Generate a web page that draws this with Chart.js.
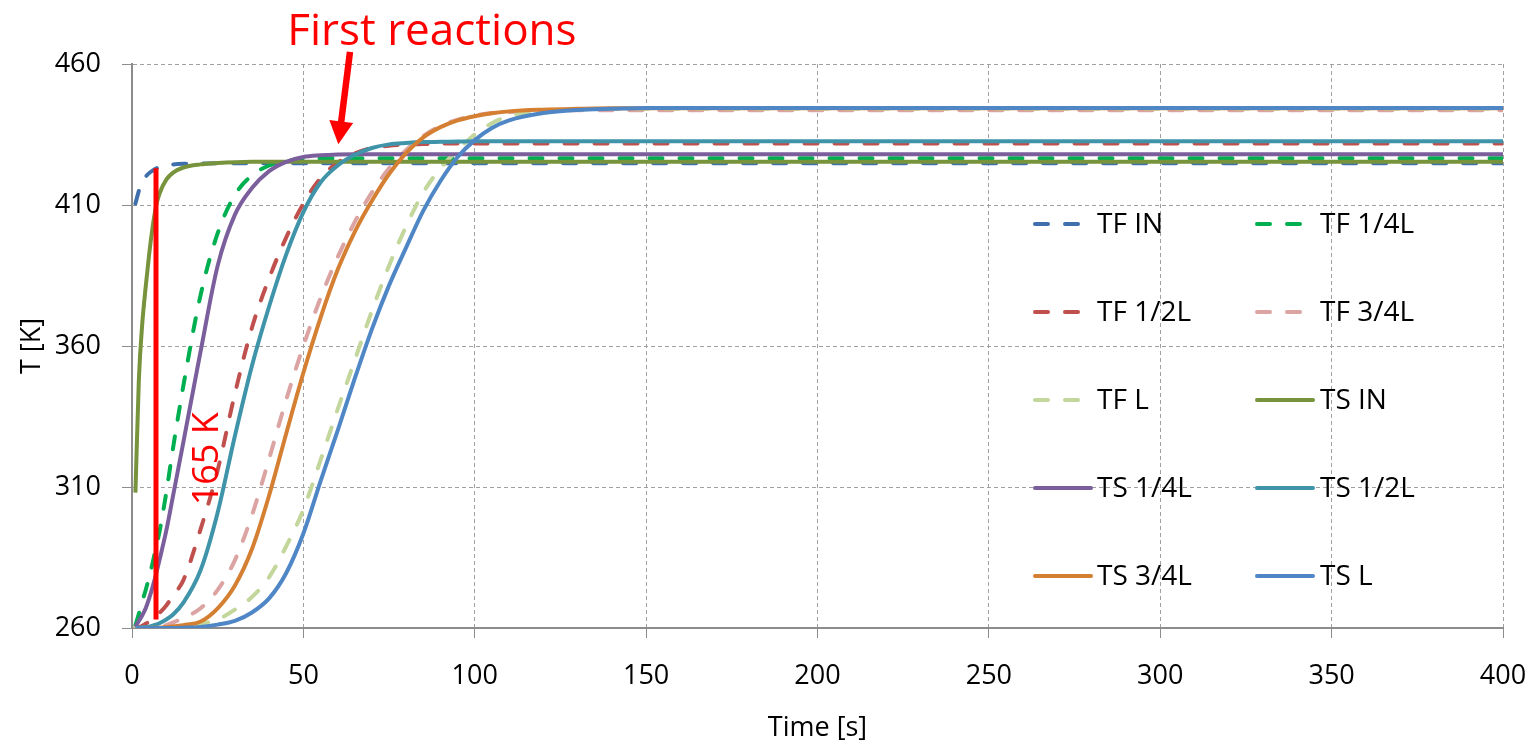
<!DOCTYPE html>
<html>
<head>
<meta charset="utf-8">
<title>Temperature vs time</title>
<script src="https://cdn.jsdelivr.net/npm/chart.js@4.4.1/dist/chart.umd.min.js"></script>
<style>
    html, body { margin: 0; padding: 0; background: #fff; }
    #wrap { width: 1533px; height: 745px; }
</style>
</head>
<body>
<div id="wrap"><canvas id="tempChart" width="1533" height="745"></canvas></div>
<script>
// time points [s]
const timeS = [1, 2, 3, 4, 5, 6, 7, 8, 10, 12, 15,
    20, 25, 30, 35, 40, 45, 50, 55, 60, 65,
    70, 75, 80, 85, 90, 95, 100, 105, 110,
    120, 130, 140, 150, 200, 300, 400];

// temperatures [K], fluid (TF) and solid (TS)
const tfIn = [410.5, 415, 418, 420, 421.3, 422.2, 422.9, 423.5, 424.1, 424.4, 424.6,
    424.7, 424.8, 424.8, 424.8, 424.8, 424.8, 424.8, 424.8, 424.8, 424.8,
    424.8, 424.8, 424.8, 424.8, 424.8, 424.8, 424.8, 424.8, 424.8,
    424.8, 424.8, 424.8, 424.8, 424.8, 424.8, 424.8];
const tfQuarter = [261, 265, 269.5, 273.5, 278, 283, 288.5, 294, 308, 324, 346,
    378, 400, 413.5, 420.5, 424, 425.5, 426.2, 426.5, 426.6, 426.6,
    426.6, 426.6, 426.6, 426.6, 426.6, 426.6, 426.6, 426.6, 426.6,
    426.6, 426.6, 426.6, 426.6, 426.6, 426.6, 426.6];
const tfHalf = [260, 260.3, 260.8, 261.5, 262.3, 263.2, 264.2, 265.3, 268, 271.5, 277,
    295, 316, 343, 366.5, 384, 398.5, 410.5, 419.5, 425, 428.3,
    430.2, 431, 431.4, 431.6, 431.8, 431.8, 431.8, 431.8, 431.8,
    431.8, 431.8, 431.8, 431.8, 431.8, 431.8, 431.8];
const tfThreeQ = [260, 260, 260.1, 260.1, 260.2, 260.3, 260.4, 260.5, 261, 262, 263.5,
    267, 273.5, 284, 300, 320, 341, 360, 377, 391.5, 404,
    414.5, 423, 429.5, 434.5, 438, 440.3, 441.7, 442.6, 443,
    443.4, 443.6, 443.6, 443.6, 443.6, 443.6, 443.6];
const tfL = [260, 260, 260, 260, 260, 260, 260, 260, 260.2, 260.4, 260.6,
    261.5, 263, 266.5, 271, 278, 289, 302, 319.5, 337.5, 355,
    372.5, 388.5, 402.5, 414.5, 423, 429.5, 435, 439, 441.5,
    443.3, 443.9, 444.1, 444.1, 444.1, 444.1, 444.1];
const tsIn = [308, 348, 368, 381, 392.5, 402, 409.5, 414, 419, 421.5, 423.3,
    424.4, 424.9, 425.2, 425.3, 425.3, 425.3, 425.3, 425.3, 425.3, 425.3,
    425.3, 425.3, 425.3, 425.3, 425.3, 425.3, 425.3, 425.3, 425.3,
    425.3, 425.3, 425.3, 425.3, 425.3, 425.3, 425.3];
const tsQuarter = [260.5, 262.5, 264.5, 267, 270.5, 274.5, 279, 284, 294.5, 307, 326,
    358, 388.5, 406.5, 416, 422, 425.3, 427, 427.6, 427.9, 428,
    428, 428, 428, 428, 428, 428, 428, 428, 428,
    428, 428, 428, 428, 428, 428, 428];
const tsHalf = [260, 260.1, 260.2, 260.3, 260.5, 260.8, 261.2, 261.7, 263, 264.8, 269,
    280.5, 301, 328, 353, 374, 392.5, 407.5, 418, 424, 427.8,
    430.2, 431.5, 432, 432.3, 432.4, 432.5, 432.6, 432.6, 432.6,
    432.6, 432.6, 432.6, 432.6, 432.6, 432.6, 432.6];
const tsThreeQ = [260, 260, 260, 260, 260, 260.1, 260.1, 260.1, 260.3, 260.6, 261,
    262.3, 267, 275, 288, 307, 329, 350.5, 370, 387, 400.5,
    411.5, 421, 428.5, 434, 437.6, 440, 441.5, 442.5, 443.2,
    443.8, 444.1, 444.3, 444.3, 444.3, 444.3, 444.3];
const tsL = [260, 260, 260, 260, 260, 260, 260, 260, 260, 260, 260.1,
    260.4, 261.2, 262.5, 265.5, 270.5, 279.5, 293.5, 312, 330, 348.5,
    366, 381.5, 395, 408, 418.5, 427, 433, 437.3, 440,
    442.6, 443.7, 444.1, 444.4, 444.4, 444.4, 444.4];

const seriesLabels = ['TF IN', 'TF 1/4L', 'TF 1/2L', 'TF 3/4L', 'TF L',
    'TS IN', 'TS 1/4L', 'TS 1/2L', 'TS 3/4L', 'TS L'];
const seriesValues = [tfIn, tfQuarter, tfHalf, tfThreeQ, tfL,
    tsIn, tsQuarter, tsHalf, tsThreeQ, tsL];
const seriesColors = ['#3f6fad', '#00b050', '#c0504d', '#dba4a3', '#c3d69b',
    '#77933c', '#7b5e9c', '#3f94aa', '#d47f32', '#4f86c6'];

const xTicks = [0, 50, 100, 150, 200, 250, 300, 350, 400];
const yTicks = [260, 310, 360, 410, 460];

// annotation values (time [s], temperature [K])
const jumpTime = 7;
const jumpFrom = 263;
const jumpTo = 423;
const jumpText = '165 K';
const arrowFrom = [63.6, 464.3];
const arrowTo = [60.2, 431.5];
const noteText = 'First reactions';

Chart.defaults.font.family = '"Open Sans", sans-serif';
Chart.defaults.color = '#000';

const datasets = seriesLabels.map((name, i) => {
    const dashed = name.startsWith('TF');
    return {
        label: name,
        data: timeS.map((t, k) => ({ x: t, y: seriesValues[i][k] })),
        borderColor: seriesColors[i],
        backgroundColor: seriesColors[i],
        borderWidth: 4,
        borderDash: dashed ? [13, 17] : [],
        borderCapStyle: dashed ? 'round' : 'butt',
        pointRadius: 0,
        cubicInterpolationMode: 'monotone',
        fill: false,
        order: seriesLabels.length - i
    };
});

// Excel-like legend inside the plot, 2 columns
const insideLegend = {
    id: 'insideLegend',
    afterDraw(chart) {
        const ctx = chart.ctx;
        const area = chart.chartArea;
        ctx.save();
        ctx.font = '28px "Open Sans"';
        ctx.textBaseline = 'middle';
        ctx.textAlign = 'left';
        chart.data.datasets.forEach((ds, i) => {
            const col = i % 2;
            const row = Math.floor(i / 2);
            const x0 = area.right - 470 + col * 222;
            const y = area.top + 160 + row * 88;
            ctx.strokeStyle = ds.borderColor;
            ctx.lineWidth = 4;
            ctx.lineCap = 'round';
            ctx.setLineDash(ds.borderDash);
            ctx.beginPath();
            ctx.moveTo(x0 + 2, y);
            ctx.lineTo(x0 + (ds.borderDash.length ? 45 : 58), y);
            ctx.stroke();
            ctx.setLineDash([]);
            ctx.fillStyle = '#000';
            ctx.fillText(ds.label, x0 + 64 + col, y + 1);
        });
        ctx.restore();
    }
};

// red marks: temperature jump bar, its label, arrow and note
const redNotes = {
    id: 'redNotes',
    afterDraw(chart) {
        const { ctx, scales: { x, y } } = chart;
        ctx.save();
        ctx.strokeStyle = '#ff0000';
        ctx.fillStyle = '#ff0000';

        const bx = x.getPixelForValue(jumpTime);
        ctx.lineWidth = 5;
        ctx.beginPath();
        ctx.moveTo(bx, y.getPixelForValue(jumpFrom));
        ctx.lineTo(bx, y.getPixelForValue(jumpTo));
        ctx.stroke();

        ctx.save();
        ctx.translate(x.getPixelForValue(22), y.getPixelForValue(320));
        ctx.rotate(-Math.PI / 2);
        ctx.font = '36px "Open Sans"';
        ctx.textAlign = 'center';
        ctx.textBaseline = 'middle';
        ctx.fillText(jumpText, 0, 0);
        ctx.restore();

        // arrow
        const ax = x.getPixelForValue(arrowFrom[0]);
        const ay = y.getPixelForValue(arrowFrom[1]);
        const tx = x.getPixelForValue(arrowTo[0]);
        const ty = y.getPixelForValue(arrowTo[1]);
        const len = Math.hypot(tx - ax, ty - ay);
        const ux = (tx - ax) / len, uy = (ty - ay) / len;
        const headLen = 23, headHalf = 12;
        const hx = tx - ux * headLen, hy = ty - uy * headLen;
        ctx.lineWidth = 6.5;
        ctx.beginPath();
        ctx.moveTo(ax, ay);
        ctx.lineTo(hx + ux, hy + uy);
        ctx.stroke();
        ctx.beginPath();
        ctx.moveTo(tx, ty);
        ctx.lineTo(hx - uy * headHalf, hy + ux * headHalf);
        ctx.lineTo(hx + uy * headHalf, hy - ux * headHalf);
        ctx.closePath();
        ctx.fill();

        ctx.font = '44px "Open Sans"';
        ctx.textAlign = 'center';
        ctx.textBaseline = 'alphabetic';
        ctx.fillText(noteText, x.getPixelForValue(87.5), chart.chartArea.top - 19);
        ctx.restore();
    }
};

const axisGrey = '#8c8c8c';

new Chart(document.getElementById('tempChart').getContext('2d'), {
    type: 'line',
    data: { datasets: datasets },
    options: {
        responsive: false,
        animation: false,
        devicePixelRatio: 1,
        layout: { padding: { top: 64, right: 30, left: 12, bottom: 0 } },
        plugins: {
            legend: { display: false },
            tooltip: { enabled: false }
        },
        scales: {
            x: {
                type: 'linear',
                min: xTicks[0],
                max: xTicks[xTicks.length - 1],
                afterBuildTicks: (scale) => { scale.ticks = xTicks.map(v => ({ value: v })); },
                afterFit: (scale) => {
                    scale.height = 117;
                    scale.paddingLeft = 0;
                    scale.paddingRight = 0;
                },
                ticks: { font: { size: 27 }, padding: 22, maxRotation: 0 },
                grid: { color: '#a0a0a0', lineWidth: 1, tickLength: 10, tickColor: axisGrey },
                border: { display: true, color: axisGrey, width: 2, dash: [4, 3] },
                title: {
                    display: true, text: 'Time [s]', font: { size: 27 },
                    padding: { top: 16, bottom: 0 }
                }
            },
            y: {
                min: yTicks[0],
                max: yTicks[yTicks.length - 1],
                afterBuildTicks: (scale) => { scale.ticks = yTicks.map(v => ({ value: v })); },
                afterFit: (scale) => { scale.width = 120; },
                ticks: { font: { size: 27 }, padding: 21 },
                grid: { color: '#a0a0a0', lineWidth: 1, tickLength: 10, tickColor: axisGrey },
                border: { display: true, color: axisGrey, width: 2, dash: [4, 3] },
                title: {
                    display: true, text: 'T [K]', font: { size: 27 },
                    padding: { top: 4, bottom: 10 }
                }
            }
        }
    },
    plugins: [insideLegend, redNotes]
});
</script>
</body>
</html>
